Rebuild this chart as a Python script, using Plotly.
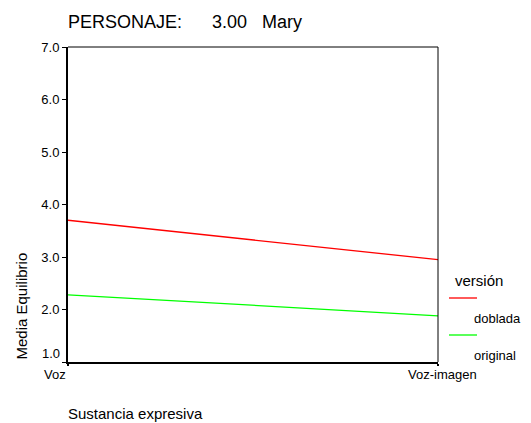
import plotly.graph_objects as go

categories = ["Voz", "Voz-imagen"]
doblada = [3.70, 2.95]
original = [2.28, 1.88]
series_names = ["doblada", "original"]
y_ticks = [1.0, 2.0, 3.0, 4.0, 5.0, 6.0, 7.0]

x_pos = list(range(len(categories)))
font = "Liberation Sans, Arial, sans-serif"
NB = "\u00a0"

L, R, T, B = 68, 93, 47, 61
WID, HEI = 531, 423

fig = go.Figure()
fig.add_trace(go.Scatter(x=x_pos, y=doblada, mode="lines", name=series_names[0],
                         line=dict(color="#FF0000", width=1.3)))
fig.add_trace(go.Scatter(x=x_pos, y=original, mode="lines", name=series_names[1],
                         line=dict(color="#00FF00", width=1.3)))

fig.update_layout(
    width=WID, height=HEI,
    margin=dict(l=L, r=R, t=T, b=B),
    paper_bgcolor="white", plot_bgcolor="white",
    showlegend=False,
    font=dict(family=font, color="black", size=13),
)
fig.update_xaxes(range=[0, 1], tickvals=x_pos, showticklabels=False,
                 showgrid=False, zeroline=False, showline=True, linecolor="black",
                 linewidth=2, ticks="outside", ticklen=2, tickwidth=2, tickcolor="black")
y_text = ["" if i == 0 else f"{v:.1f}" for i, v in enumerate(y_ticks)]
fig.update_yaxes(range=[1, 7], tickvals=y_ticks, ticktext=y_text,
                 showgrid=False, zeroline=False, showline=True, linecolor="black",
                 linewidth=2, ticks="outside", ticklen=4, tickcolor="black",
                 tickfont=dict(size=13), ticklabelstandoff=0)
# lowest tick label sits slightly above its tick (as in the reference)
fig.add_annotation(text=f"{y_ticks[0]:.1f}", xref="paper", yref="y", x=0, xshift=-6,
                   y=y_ticks[0], yshift=9, xanchor="right", yanchor="middle",
                   showarrow=False, font=dict(size=13))

# x category labels placed at data positions
for xv, lab in zip(x_pos, categories):
    fig.add_annotation(text=lab, xref="x", yref="paper", x=xv, y=0, yshift=-12,
                       xanchor="right" if xv == 0 else "center",
                       xshift=0 if xv == 0 else 4,
                       yanchor="middle", showarrow=False, font=dict(size=13))

# frame top/right
fig.add_shape(type="line", xref="paper", yref="paper", x0=0, x1=1, y0=1, y1=1,
              line=dict(color="black", width=1))
fig.add_shape(type="line", xref="paper", yref="paper", x0=1, x1=1, y0=0, y1=1,
              line=dict(color="black", width=1))

W = WID - L - R
H = HEI - T - B
def px(xp):
    return (xp - L) / W
def py(yp):
    return (HEI - B - yp) / H

# title
fig.add_annotation(text="PERSONAJE:" + NB * 6 + "3.00" + NB * 3 + "Mary",
                   xref="paper", yref="paper", x=px(66), y=py(22),
                   xanchor="left", yanchor="middle", showarrow=False,
                   font=dict(size=18))
# axis titles
fig.add_annotation(text="Media Equilibrio", xref="paper", yref="paper",
                   x=px(21), y=py(362), yanchor="bottom", xanchor="center",
                   textangle=-90, showarrow=False, font=dict(size=15))
fig.add_annotation(text="Sustancia expresiva", xref="paper", yref="paper",
                   x=px(66), y=py(413), xanchor="left", yanchor="middle",
                   showarrow=False, font=dict(size=15))

# legend
fig.add_annotation(text="versión", xref="paper", yref="paper", x=px(453), y=py(280),
                   xanchor="left", yanchor="middle", showarrow=False, font=dict(size=15))
legend_colors = ["#FF0000", "#00FF00"]
for i, (name, col) in enumerate(zip(series_names, legend_colors)):
    ly = 298 + i * 37
    fig.add_shape(type="line", xref="paper", yref="paper", x0=px(449), x1=px(477),
                  y0=py(ly), y1=py(ly), line=dict(color=col, width=1.3))
    fig.add_annotation(text=name, xref="paper", yref="paper", x=px(472), y=py(ly + 20),
                       xanchor="left", yanchor="middle", showarrow=False,
                       font=dict(size=13))

fig.write_html("out.html", config={"displayModeBar": False},
               post_script="document.body.style.margin='0';document.body.style.overflow='hidden';")
